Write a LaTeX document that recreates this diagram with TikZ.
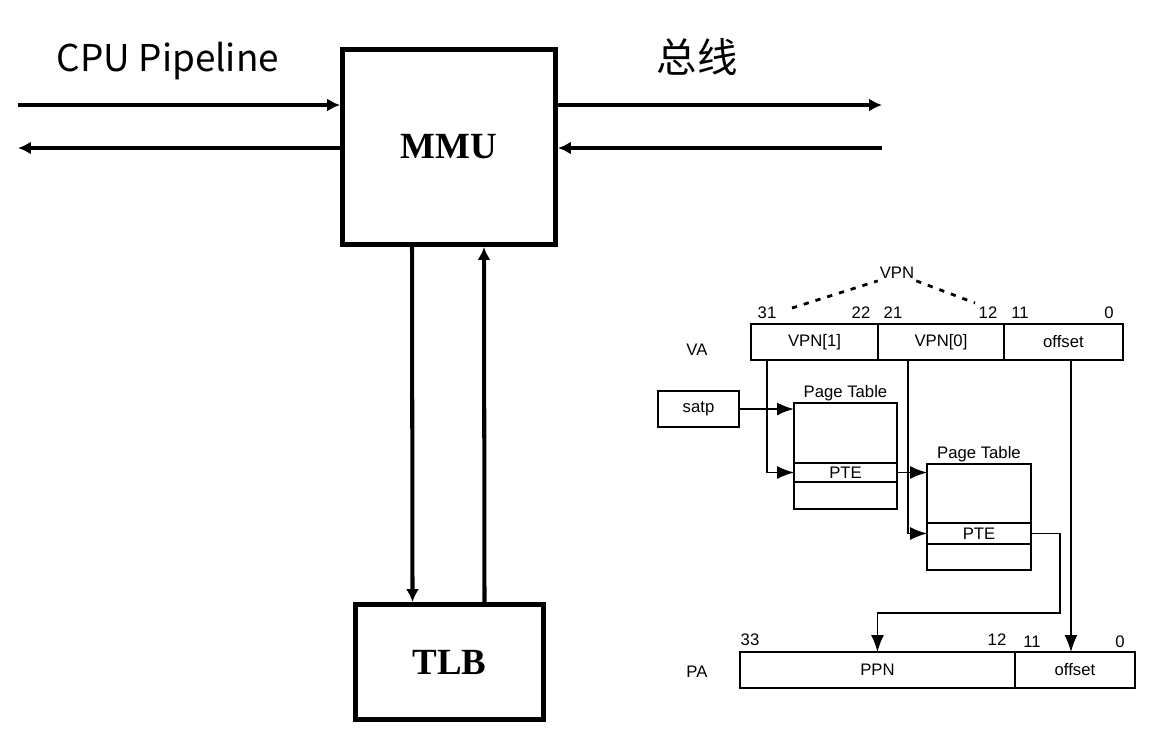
\documentclass[tikz,border=0pt]{standalone}
\usepackage{fontspec}
\setmainfont{Liberation Sans}
\newfontfamily\cjk{Noto Sans CJK SC}
\newfontfamily\serifbf{Liberation Serif}
\usetikzlibrary{arrows.meta,positioning}

\begin{document}
\begin{tikzpicture}[x=0.02cm,y=-0.02cm,font=\fontsize{9.5}{11}\selectfont,
		blk/.style={draw,line width=2.8pt,inner sep=0pt,font=\serifbf\bfseries\fontsize{21}{21}\selectfont},
		busline/.style={line width=2.3pt,-{Latex[length=2.6mm,width=2.6mm]}},
		fld/.style={draw,line width=1.1pt,outer sep=0pt,inner sep=0pt,minimum height=0.72cm},
		ptr/.style={line width=0.8pt,-{Latex[length=3.4mm,width=2.6mm]}},
		vdash/.style={line width=1.6pt,dash pattern=on 3pt off 4pt}]
		\useasboundingbox (0,0) rectangle (1165,745);
		\node[font=\cjk\fontsize{21}{21}\selectfont] (cpu) at (168,61) {CPU Pipeline};
		\node[font=\cjk\fontsize{23}{23}\selectfont] (zx) at (697,57) {总线};
		\node[blk,minimum width=4.26cm,minimum height=3.9cm] (mmu) at (449,147) {MMU};
		\node[blk,minimum width=3.76cm,minimum height=2.3cm] (tlb) at (449.5,662) {TLB};
		\coordinate (cpuin) at (18,105);
		\coordinate (cpuout) at (18,148);
		\coordinate (busout) at (882,105);
		\coordinate (busin) at (882,148);
		\draw[busline] (cpuin) -- (cpuin -| mmu.west);
		\draw[busline] (cpuout -| mmu.west) -- (cpuout);
		\draw[busline] (busout -| mmu.east) -- (busout);
		\draw[busline] (busin) -- (busin -| mmu.east);
		\draw[busline] ([xshift=-0.74cm]mmu.south) -- ([xshift=-0.74cm]tlb.north);
		\draw[busline] ([xshift=0.7cm]tlb.north) -- ([xshift=0.7cm]mmu.south);
		% VA
		\node (va) at (697,350) {VA};
		\node[fld,minimum width=2.54cm,anchor=west] (vpn1) at (751,342) {\raisebox{-2pt}{VPN[1]}};
		\node[fld,minimum width=2.52cm,right=0pt of vpn1] (vpn0) {\raisebox{2pt}{VPN[0]}};
		\node[fld,minimum width=2.38cm,right=0pt of vpn0] (off) {\raisebox{-2pt}{offset}};
		\foreach \b/\x in {31/767,22/861,21/893,12/988,11/1020,0/1109}
			\node (va\b) at (\x,313) {\b};
		\node[inner sep=1pt] (vpn) at (897,273) {VPN};
		\coordinate (d1) at (792,308);
		\coordinate (d2) at (975,303);
		\draw[vdash] (d1) -- (vpn.south west);
		\draw[vdash] (vpn.south east) -- (d2);
		% page tables
		\node[fld,minimum width=1.62cm] (satp) at (698.5,409) {satp};
		\node[fld,minimum width=2.06cm,minimum height=1.2cm,anchor=north west,
			label={[inner sep=1pt]above:Page Table}] (pt1) at (794,403) {};
		\node[fld,minimum width=2.06cm,minimum height=0.38cm,below=0pt of pt1] (pte1) {PTE};
		\node[fld,minimum width=2.06cm,minimum height=0.54cm,below=0pt of pte1] (pt1b) {};
		\node[fld,minimum width=2.08cm,minimum height=1.18cm,anchor=north west,
			label={[inner sep=1pt]above:Page Table}] (pt2) at (927,464) {};
		\node[fld,minimum width=2.08cm,minimum height=0.42cm,below=0pt of pt2] (pte2) {PTE};
		\node[fld,minimum width=2.08cm,minimum height=0.52cm,below=0pt of pte2] (pt2b) {};
		% PA
		\node (pa) at (697,672) {PA};
		\node[fld,minimum width=5.5cm,anchor=west] (ppn) at (740,670) {PPN};
		\node[fld,minimum width=2.4cm,right=0pt of ppn] (paoff) {\raisebox{-2pt}{offset}};
		\foreach \b/\x/\y in {33/750/640,12/997/640,11/1032/642,0/1120/642}
			\node (pa\b) at (\x,\y) {\b};
		% pointers
		\draw[ptr,line width=1.1pt] (satp) -- (satp -| pt1.west);
		\draw[ptr] ([xshift=-0.95cm]vpn1.south) |- (pte1.west);
		\draw[ptr] (pte1.east) -- (pte1.east -| pt2.west);
		\draw[ptr] ([xshift=-0.66cm]vpn0.south) |- (pte2.west);
		\draw[ptr] (pte2.east) -- ++(0.58cm,0) |- ([yshift=0.78cm]ppn.north) -- (ppn.north);
		\draw[ptr] ([xshift=0.15cm]off.south) -- ([xshift=0.15cm]off.south |- paoff.north);
	\end{tikzpicture}
\end{document}
